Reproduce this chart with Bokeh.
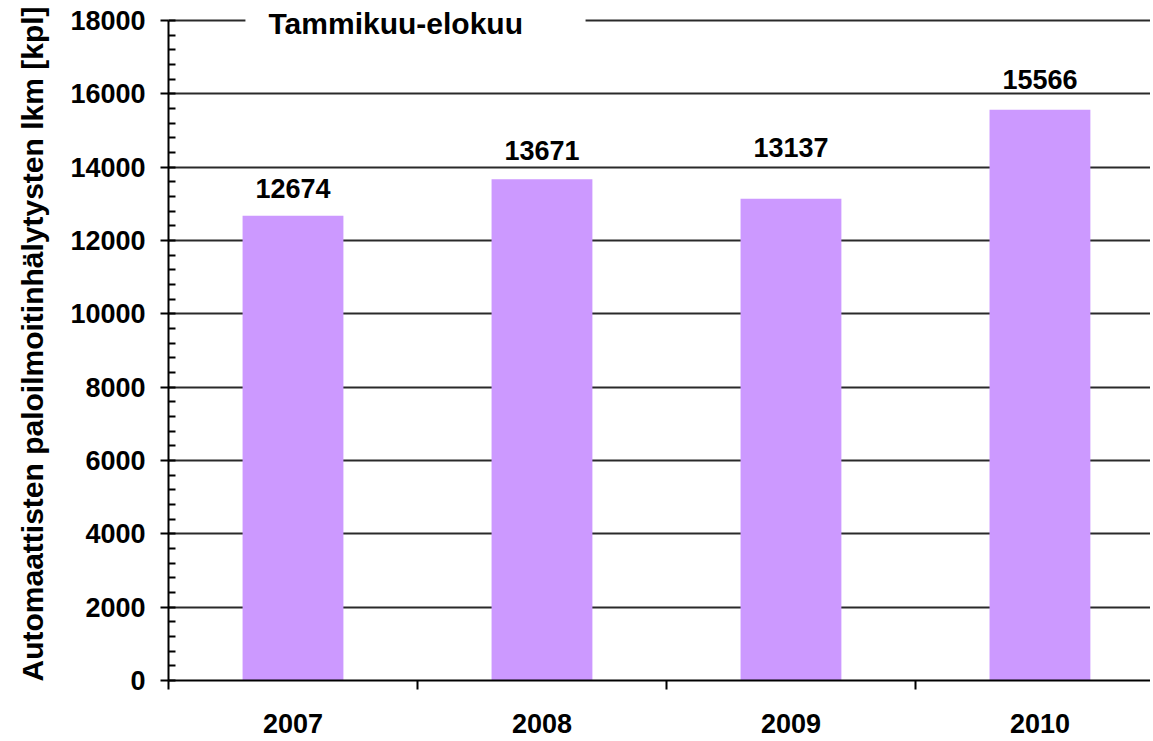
from bokeh.plotting import figure
from bokeh.models import (ColumnDataSource, Range1d, FixedTicker, Label, LabelSet, BoxAnnotation)
from bokeh.core.properties import value
from bokeh.embed import file_html
from bokeh.resources import INLINE
import numpy as np

# ---- data ----
years = ["2007", "2008", "2009", "2010"]
counts = [12674, 13671, 13137, 15566]
y_ticks = list(range(0, 18001, 2000))
y_minor = list(range(0, 18001, 400))
title_text = "Tammikuu-elokuu"
y_label = "Automaattisten paloilmoitinhälytysten lkm [kpl]"

# ---- styling ----
FONT = "Liberation Sans"
BAR_COLOR = "#CC99FF"
label_offsets = [18, 19, 42, 21]  # px gap above bar tops for value labels
Y_MAX = y_ticks[-1]

xpos = np.arange(len(years)) + 0.5
src = ColumnDataSource(dict(
    x=xpos,
    top=counts,
    txt=[str(c) for c in counts],
    yoff=label_offsets,
))

p = figure(width=1150, height=741, output_backend="svg", toolbar_location=None,
           x_range=Range1d(0, 3.944), y_range=Range1d(0, Y_MAX * 1.0198))
p.min_border_left = 168
p.min_border_top = 7
p.min_border_right = 0
p.min_border_bottom = 61
p.outline_line_color = None
p.background_fill_color = "white"
p.border_fill_color = "white"

p.vbar(x="x", top="top", width=0.405, bottom=0, source=src,
       fill_color=BAR_COLOR, line_color=None)

labels = LabelSet(x="x", y="top", text="txt", source=src, y_offset="yoff",
                  text_align="center", text_baseline="bottom",
                  text_font=value(FONT), text_font_style="bold", text_font_size="27px",
                  text_color="black")
p.add_layout(labels)

# grid
p.xgrid.grid_line_color = None
p.ygrid.ticker = FixedTicker(ticks=y_ticks)
p.ygrid.grid_line_color = "#2a2a2a"
p.ygrid.grid_line_width = 2

# y axis
ya = p.yaxis[0]
ya.ticker = FixedTicker(ticks=y_ticks, minor_ticks=y_minor)
ya.bounds = (0, Y_MAX)
ya.axis_line_color = "black"
ya.axis_line_width = 2
ya.major_tick_line_width = 2
ya.major_tick_in = 0
ya.major_tick_out = 8
ya.minor_tick_line_width = 2
ya.minor_tick_in = 7
ya.minor_tick_out = 0
ya.minor_tick_line_color = "black"
ya.major_label_text_font = FONT
ya.major_label_text_font_style = "bold"
ya.major_label_text_font_size = "27px"
ya.major_label_text_color = "black"
ya.major_label_standoff = 15
ya.axis_label = y_label
ya.axis_label_text_font = FONT
ya.axis_label_text_font_style = "bold"
ya.axis_label_text_font_size = "30px"
ya.axis_label_text_color = "black"
ya.axis_label_standoff = 18

# x axis
xa = p.xaxis[0]
xa.ticker = FixedTicker(ticks=list(xpos), minor_ticks=list(range(len(years) + 1)))
xa.major_label_overrides = {float(x): y for x, y in zip(xpos, years)}
xa.axis_line_color = "black"
xa.axis_line_width = 2
xa.major_tick_in = 0
xa.major_tick_out = 0
xa.minor_tick_in = 0
xa.minor_tick_out = 9
xa.minor_tick_line_width = 2
xa.minor_tick_line_color = "black"
xa.major_label_text_font = FONT
xa.major_label_text_font_style = "bold"
xa.major_label_text_font_size = "27px"
xa.major_label_text_color = "black"
xa.major_label_standoff = 24

# white gap in the top gridline behind the title
gap = BoxAnnotation(left=0.309, right=1.675, top=Y_MAX + 150, bottom=Y_MAX - 150,
                    fill_color="white", fill_alpha=1.0, line_color=None)
p.add_layout(gap)

title = Label(x=0.4016, y=Y_MAX, y_offset=-3, text=title_text, text_baseline="middle",
              text_font=FONT, text_font_style="bold", text_font_size="30px",
              text_color="black")
p.add_layout(title)

open("out.html", "w").write(file_html(p, INLINE))
